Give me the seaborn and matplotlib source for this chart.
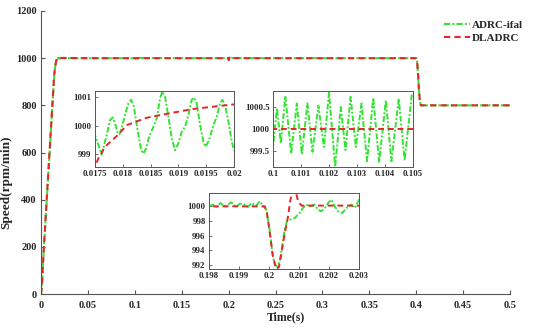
import numpy as np
import pandas as pd
import matplotlib
matplotlib.use("Agg")
import matplotlib.pyplot as plt
import seaborn as sns

# ---------------- data ----------------
series_names = ["ADRC-ifal", "DLADRC"]

# start-up ramp
t_rise = [0.0, 0.001, 0.003, 0.006, 0.009, 0.012, 0.014, 0.015, 0.016, 0.017]
green_rise = [0, 40, 190, 390, 590, 790, 920, 960, 985, 1000.3]
red_rise = [0, 40, 195, 395, 595, 795, 925, 962, 984, 997.9]

# zoom window 1 (0.0175 - 0.02)
t_z1_green = [0.01750, 0.01762, 0.01771, 0.01777, 0.01782, 0.01786, 0.01790, 0.01794,
              0.01798, 0.01804, 0.01810, 0.01815, 0.01820, 0.01826, 0.01833, 0.01837,
              0.01842, 0.01848, 0.01854, 0.01861, 0.01867, 0.01871, 0.01876, 0.01882,
              0.01888, 0.01894, 0.01900, 0.01906, 0.01912, 0.01918, 0.01924, 0.01928,
              0.01933, 0.01939, 0.01945, 0.01949, 0.01955, 0.01963, 0.01969, 0.01975,
              0.01979, 0.01984, 0.01990, 0.01996, 0.02000]
v_z1_green = [999.67, 998.99, 999.67, 1000.20, 1000.29, 1000.08, 999.79, 999.69,
              999.91, 1000.38, 1000.79, 1000.91, 1000.67, 999.91, 999.14, 999.02,
              999.20, 999.67, 999.91, 1000.26, 1000.96, 1001.20, 1001.02, 1000.32,
              999.55, 999.14, 999.38, 999.79, 999.96, 1000.38, 1000.91, 1000.99,
              1000.79, 1000.02, 999.44, 999.26, 999.49, 1000.02, 1000.32, 1000.79,
              1000.91, 1000.73, 1000.14, 999.44, 999.14]
t_z1_red = [0.01750, 0.01756, 0.01768, 0.01792, 0.01807, 0.01843, 0.01885, 0.01927, 0.01963, 0.02000]
v_z1_red = [998.57, 998.85, 999.26, 999.69, 1000.02, 1000.28, 1000.44, 1000.59, 1000.67, 1000.75]

# settling between windows
t_mid1 = [0.025, 0.035, 0.05, 0.07, 0.09]
green_mid1 = [1000.0, 1000.0, 1000.0, 1000.0, 1000.0]
red_mid1 = [1000.9, 1000.6, 1000.2, 1000.05, 1000.0]

# zoom window 2 (0.1 - 0.105)
t_z2_green = [0.10000, 0.10014, 0.10028, 0.10044, 0.10065, 0.10085, 0.10103, 0.10123,
              0.10141, 0.10162, 0.10182, 0.10200, 0.10222, 0.10242, 0.10259, 0.10277,
              0.10296, 0.10316, 0.10336, 0.10358, 0.10379, 0.10403, 0.10423, 0.10449,
              0.10470, 0.10496, 0.10500]
v_z2_green = [999.60, 1000.47, 999.68, 1000.75, 999.45, 1000.58, 999.44, 1000.58,
              999.49, 1000.53, 999.60, 1000.83, 999.15, 1000.50, 999.53, 1000.73,
              999.60, 1000.58, 999.28, 1000.71, 999.25, 1000.65, 999.28, 1000.69,
              999.30, 1000.80, 1000.80]
t_z2_red = [0.100, 0.105]
v_z2_red = [1000.0, 1000.0]

t_mid2 = [0.15]
green_mid2 = [1000.0]
red_mid2 = [1000.0]

# zoom window 3 (0.198 - 0.203), load disturbance
t_z3_green = [0.19800, 0.19813, 0.19824, 0.19838, 0.19852, 0.19863, 0.19874, 0.19891,
              0.19902, 0.19919, 0.19930, 0.19941, 0.19958, 0.19969, 0.19982, 0.19991,
              0.20002, 0.20011, 0.20019, 0.20027, 0.20036, 0.20044, 0.20052, 0.20060,
              0.20069, 0.20086, 0.20102, 0.20113, 0.20124, 0.20138, 0.20152, 0.20163,
              0.20174, 0.20186, 0.20197, 0.20208, 0.20219, 0.20230, 0.20244, 0.20258,
              0.20274, 0.20286, 0.20300]
v_z3_green = [1000.0, 1000.23, 999.91, 1000.45, 1000.0, 1000.23, 1000.55, 999.91,
              1000.36, 1000.23, 999.91, 1000.45, 1000.09, 1000.68, 1000.0, 999.55,
              996.82, 993.64, 992.05, 991.82, 992.50, 994.55, 996.82, 997.95,
              998.18, 998.41, 999.09, 999.77, 1000.23, 1000.0, 1000.23, 999.55,
              999.32, 999.77, 1000.45, 1000.91, 1000.0, 999.32, 999.09, 999.77,
              1000.23, 999.77, 1000.91]
t_z3_red = [0.19800, 0.19986, 0.19993, 0.20002, 0.20013, 0.20024, 0.20033, 0.20041,
            0.20052, 0.20063, 0.20071, 0.20080, 0.20089, 0.20097, 0.20108, 0.20300]
v_z3_red = [1000.0, 1000.0, 999.1, 996.6, 993.2, 991.45, 991.7, 993.5,
            996.2, 998.5, 1000.8, 1002.3, 1002.0, 1000.7, 1000.1, 1000.1]

# reference step down at 0.4 s
t_end = [0.25, 0.30, 0.35, 0.400, 0.401, 0.402, 0.403, 0.404, 0.405, 0.45, 0.50]
green_end = [1000, 1000, 1000, 1000, 985, 930, 860, 815, 800, 800, 800]
red_end = [1000, 1000, 1000, 1000, 985, 930, 860, 815, 800, 800, 800]

x_ticks = [0, 0.05, 0.1, 0.15, 0.2, 0.25, 0.3, 0.35, 0.4, 0.45, 0.5]
x_ticklabels = ["0", "0.05", "0.1", "0.15", "0.2", "0.25", "0.3", "0.35", "0.4", "0.45", "0.5"]
y_ticks = [0, 200, 400, 600, 800, 1000, 1200]
y_ticklabels = ["0", "200", "400", "600", "800", "1000", "1200"]

z1_xticks = [0.0175, 0.018, 0.0185, 0.019, 0.0195, 0.02]
z1_xlabels = ["0.0175", "0.018", "0.0185", "0.019", "0.0195", "0.02"]
z1_yticks = [999, 1000, 1001]
z1_ylabels = ["999", "1000", "1001"]
z2_xticks = [0.1, 0.101, 0.102, 0.103, 0.104, 0.105]
z2_xlabels = ["0.1", "0.101", "0.102", "0.103", "0.104", "0.105"]
z2_yticks = [999.5, 1000, 1000.5]
z2_ylabels = ["999.5", "1000", "1000.5"]
z3_xticks = [0.198, 0.199, 0.2, 0.201, 0.202, 0.203]
z3_xlabels = ["0.198", "0.199", "0.2", "0.201", "0.202", "0.203"]
z3_yticks = [992, 994, 996, 998, 1000]
z3_ylabels = ["992", "994", "996", "998", "1000"]

# ---------------- build table ----------------
t_green = t_rise + t_z1_green + t_mid1 + t_z2_green + t_mid2 + t_z3_green + t_end
v_green = green_rise + v_z1_green + green_mid1 + v_z2_green + green_mid2 + v_z3_green + green_end
t_red = t_rise + t_z1_red + t_mid1 + t_z2_red + t_mid2 + t_z3_red + t_end
v_red = red_rise + v_z1_red + red_mid1 + v_z2_red + red_mid2 + v_z3_red + red_end

df = pd.concat([
    pd.DataFrame({"t": t_green, "v": v_green, "s": series_names[0]}),
    pd.DataFrame({"t": t_red, "v": v_red, "s": series_names[1]}),
], ignore_index=True)

# ---------------- style ----------------
sns.set_style("ticks")
plt.rcParams["font.family"] = ["Liberation Serif", "DejaVu Serif"]
plt.rcParams["font.weight"] = "bold"
plt.rcParams["axes.labelweight"] = "bold"

palette = {series_names[0]: "#33e433", series_names[1]: "#e3262b"}
dashes = {series_names[0]: (3, 1, 1, 1), series_names[1]: (3, 2)}
spine_col = "#555555"


def draw(ax, lw):
    sns.lineplot(data=df, x="t", y="v", hue="s", style="s",
                 hue_order=series_names, style_order=series_names,
                 palette=palette, dashes=dashes, estimator=None, sort=False,
                 linewidth=lw, legend=False, ax=ax)
    ax.set_xlabel("")
    ax.set_ylabel("")


fig = plt.figure(figsize=(5.5, 3.3), dpi=100)
ax = fig.add_axes([41 / 550, 36 / 330, 469 / 550, 283 / 330])
draw(ax, 1.5)
ax.set_xlim(0, 0.5)
ax.set_ylim(0, 1200)
ax.set_xticks(x_ticks)
ax.set_xticklabels(x_ticklabels)
ax.set_yticks(y_ticks)
ax.set_yticklabels(y_ticklabels)
ax.tick_params(direction="in", length=3, width=0.8, labelsize=7.5, color=spine_col)
ax.tick_params(axis="x", pad=5)
ax.tick_params(axis="y", pad=3)
for lab in ax.get_xticklabels() + ax.get_yticklabels():
    lab.set_fontweight("bold")
for side in ["top", "right"]:
    ax.spines[side].set_visible(False)
for side in ["left", "bottom"]:
    ax.spines[side].set_color(spine_col)
    ax.spines[side].set_linewidth(0.8)
ax.set_xlabel("Time(s)", fontsize=8.5, fontweight="bold")
ax.set_ylabel("Speed(rpm/min)", fontsize=9.5, fontweight="bold")
ax.xaxis.set_label_coords((286 - 41) / 469, (294 - 311) / 283)
ax.yaxis.set_label_coords((12 - 41) / 469, (294 - 182) / 283)

handles = ax.lines[:2]
fig.legend(handles, series_names, loc="upper left", bbox_to_anchor=(438 / 550, 1 - 15 / 330),
           frameon=False, handlelength=2.4, handletextpad=0.15,
           labelspacing=0.25, borderpad=0, prop={"weight": "bold", "size": 8})

insets = [
    ([95 / 550, 163 / 330, 139 / 550, 76 / 330], (0.0175, 0.02), (998.55, 1001.22),
     z1_xticks, z1_xlabels, z1_yticks, z1_ylabels),
    ([273 / 550, 163 / 330, 140 / 550, 76 / 330], (0.1, 0.105), (999.15, 1000.86),
     z2_xticks, z2_xlabels, z2_yticks, z2_ylabels),
    ([209 / 550, 61 / 330, 150 / 550, 76 / 330], (0.198, 0.203), (991.45, 1001.82),
     z3_xticks, z3_xlabels, z3_yticks, z3_ylabels),
]
for rect, xl, yl, xt, xtl, yt, ytl in insets:
    ia = fig.add_axes(rect)
    draw(ia, 1.4)
    ia.set_xlim(*xl)
    ia.set_ylim(*yl)
    ia.set_xticks(xt)
    ia.set_xticklabels(xtl)
    ia.set_yticks(yt)
    ia.set_yticklabels(ytl)
    ia.tick_params(direction="in", length=2, width=0.6, labelsize=6.3, color=spine_col, pad=2.5)
    for lab in ia.get_xticklabels() + ia.get_yticklabels():
        lab.set_fontweight("bold")
    for sp in ia.spines.values():
        sp.set_visible(True)
        sp.set_color(spine_col)
        sp.set_linewidth(0.7)
    ia.set_facecolor("white")

fig.savefig("out.png", dpi=100)
